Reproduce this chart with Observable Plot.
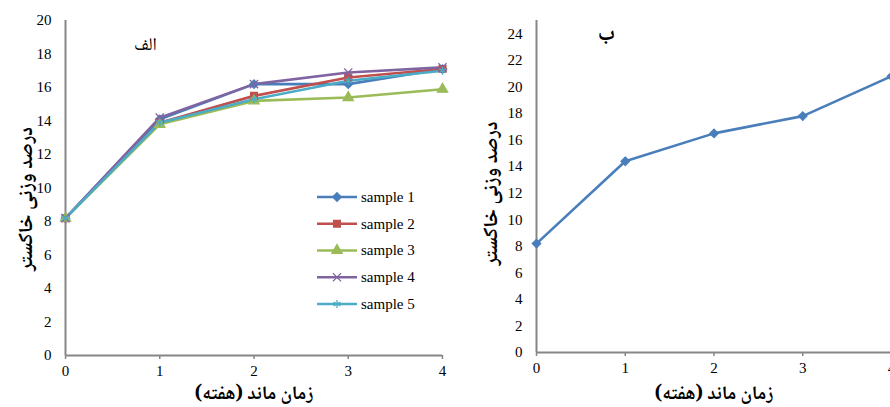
<!DOCTYPE html>
<html><head><meta charset="utf-8">
<script src="https://cdn.jsdelivr.net/npm/d3@7"></script>
<script src="https://cdn.jsdelivr.net/npm/@observablehq/plot@0.6"></script>
<style>
body{margin:0;background:#fff;}
#wrap{position:relative;width:890px;height:407px;overflow:hidden;font-family:'Liberation Serif', serif;}
#left,#right,#legend{position:absolute;top:0;}
#left{left:0;width:460px;}
#right{left:460px;width:440px;}
#legend{left:312px;top:182px;}
svg{overflow:visible;max-width:none !important;}
</style></head><body>
<div id="wrap"><div id="left"></div><div id="right"></div><div id="legend"></div></div>
<script>
const weeks = [0, 1, 2, 3, 4];
const sampleNames = ["sample 1", "sample 2", "sample 3", "sample 4", "sample 5"];
const sample1 = [8.2, 14.1, 16.2, 16.2, 17.1];
const sample2 = [8.2, 13.9, 15.5, 16.6, 17.1];
const sample3 = [8.2, 13.8, 15.2, 15.4, 15.9];
const sample4 = [8.2, 14.2, 16.2, 16.9, 17.2];
const sample5 = [8.2, 13.9, 15.3, 16.4, 17.0];
const panelB = [8.2, 14.4, 16.5, 17.8, 20.8];
const yTicksA = [0, 2, 4, 6, 8, 10, 12, 14, 16, 18, 20];
const yTicksB = [0, 2, 4, 6, 8, 10, 12, 14, 16, 18, 20, 22, 24];
const xTitle = "زمان ماند (هفته)";
const yTitle = "درصد وزنی خاکستر";
const labelA = "الف";
const labelB = "ب";

const colors = ["#4A7EBB", "#C0504D", "#9BBB59", "#8064A2", "#4BACC6"];
const symbols = ["diamond2", "square", "triangle", "times", "asterisk"];
const axisGray = "#868686";
const serifFont = "'Liberation Serif', 'Times New Roman', serif";
const arabicFont = "'Noto Naskh Arabic', 'Liberation Serif', serif";

const seriesA = [sample1, sample2, sample3, sample4, sample5];
const dataA = seriesA.flatMap((vals, i) => vals.map((v, j) => ({series: sampleNames[i], week: weeks[j], value: v})));
const dataB = panelB.map((v, j) => ({series: sampleNames[0], week: weeks[j], value: v}));

function panel(data, yDomain, yTicks, label, opts) {
  return Plot.plot({
    width: opts.width, height: 407,
    marginLeft: opts.marginLeft, marginRight: opts.marginRight,
    marginTop: 20, marginBottom: opts.marginBottom,
    x: {domain: [0, 4]},
    y: {domain: yDomain},
    color: {domain: sampleNames, range: colors},
    symbol: {domain: sampleNames, range: symbols},
    style: {fontFamily: serifFont, fontSize: "15px", color: "#000", background: "transparent", maxWidth: "none"},
    marks: [
      Plot.axisY({ticks: yTicks, tickSize: 0, tickPadding: 14, label: null, fontFamily: serifFont, fontSize: 15}),
      Plot.axisX({ticks: weeks, tickFormat: d3.format("d"), tickSize: 4, tickPadding: 6, stroke: axisGray, strokeWidth: 1.5, label: null, fontFamily: serifFont, fontSize: 15}),
      Plot.ruleX([0], {stroke: axisGray, strokeWidth: 2}),
      Plot.ruleY([0], {stroke: axisGray, strokeWidth: 2}),
      Plot.line(data, {x: "week", y: "value", z: "series", stroke: "series", strokeWidth: 2.6}),
      Plot.dot(data, {x: "week", y: "value", symbol: "series", fill: "series", stroke: "series", r: 3.8, strokeWidth: 1.3}),
      Plot.text([xTitle], {text: d => d, frameAnchor: "bottom", textAnchor: "middle", lineAnchor: "middle", dy: opts.xTitleDy, fontFamily: arabicFont, fontWeight: "bold", fontSize: 19}),
      Plot.text([yTitle], {text: d => d, frameAnchor: "left", textAnchor: "middle", lineAnchor: "middle", rotate: -90, dx: opts.yTitleDx, dy: opts.yTitleDy, fontFamily: arabicFont, fontWeight: "bold", fontSize: 20}),
      Plot.text([label], {text: d => d, frameAnchor: "top-left", textAnchor: "middle", lineAnchor: "middle", dx: opts.labelDx, dy: opts.labelDy, fontFamily: arabicFont, fontWeight: opts.labelWeight, fontSize: opts.labelSize})
    ]
  });
}

document.getElementById("left").append(panel(dataA, [0, 20], yTicksA, labelA,
  {width: 460, marginLeft: 65, marginRight: 18, marginBottom: 52, xTitleDy: 37, yTitleDx: -40, yTitleDy: 11, labelDx: 80, labelDy: 24, labelSize: 18, labelWeight: "normal"}));
document.getElementById("right").append(panel(dataB, [0, 25], yTicksB, labelB,
  {width: 440, marginLeft: 76, marginRight: 9, marginBottom: 55, xTitleDy: 40, yTitleDx: -46, yTitleDy: 7, labelDx: 70, labelDy: 12, labelSize: 22, labelWeight: "bold"}));

// Legend for panel A
const svgNS = "http://www.w3.org/2000/svg";
const leg = document.createElementNS(svgNS, "svg");
leg.setAttribute("width", 130);
leg.setAttribute("height", 140);
const sym = {diamond2: d3.symbolDiamond2, square: d3.symbolSquare, triangle: d3.symbolTriangle, times: d3.symbolTimes, asterisk: d3.symbolAsterisk};
sampleNames.forEach((name, i) => {
  const g = document.createElementNS(svgNS, "g");
  g.setAttribute("transform", `translate(0,${15 + i * 26.75})`);
  const ln = document.createElementNS(svgNS, "line");
  ln.setAttribute("x1", 5); ln.setAttribute("x2", 45);
  ln.setAttribute("stroke", colors[i]); ln.setAttribute("stroke-width", 2.6);
  g.append(ln);
  const p = document.createElementNS(svgNS, "path");
  p.setAttribute("d", d3.symbol(sym[symbols[i]], 3.8 * 3.8 * Math.PI)());
  p.setAttribute("transform", "translate(25,0)");
  p.setAttribute("fill", colors[i]); p.setAttribute("stroke", colors[i]); p.setAttribute("stroke-width", 1.3);
  g.append(p);
  const t = document.createElementNS(svgNS, "text");
  t.setAttribute("x", 49); t.setAttribute("dy", "0.32em");
  t.style.fontSize = "15px";
  t.style.fontFamily = serifFont;
  t.textContent = name;
  g.append(t);
  leg.append(g);
});
document.getElementById("legend").append(leg);
</script>
</body></html>
